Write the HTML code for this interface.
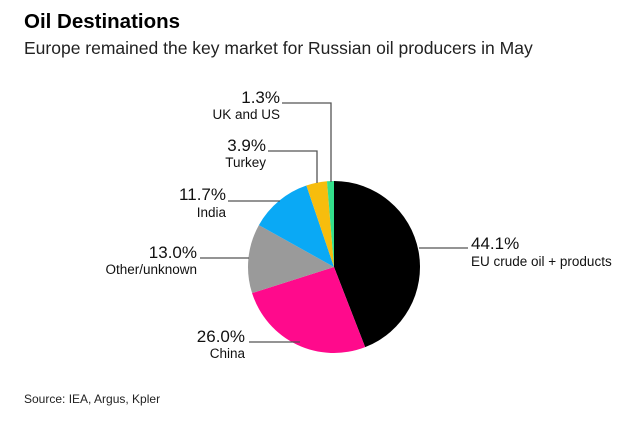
<!DOCTYPE html>
<html><head><meta charset="utf-8"><style>
body{margin:0;background:#fff;width:635px;height:419px;overflow:hidden;font-family:"Liberation Sans",Arial,sans-serif}
</style></head><body>
<svg id="s" width="635" height="419" xmlns="http://www.w3.org/2000/svg" font-family="Liberation Sans, Arial, sans-serif">
<text x="24" y="28" font-size="20.5" font-weight="bold" fill="#000">Oil Destinations</text>
<text x="24" y="54" font-size="17.5" fill="#222">Europe remained the key market for Russian oil producers in May</text>
<g id="pie"></g>
<g stroke="#555" stroke-width="1.3" fill="none">
<polyline points="282,103 331,103 331,182"/>
<polyline points="268,151 317,151 317,183"/>
<polyline points="228,201 280,201"/>
<polyline points="200,258 249,258"/>
<polyline points="419,248 468,248"/>
<polyline points="249,342 300,342"/>
</g>
<g fill="#111" text-anchor="end">
<text x="280" y="103" font-size="17">1.3%</text>
<text x="280" y="119" font-size="13.5">UK and US</text>
<text x="266" y="151" font-size="17">3.9%</text>
<text x="266" y="167" font-size="13.5">Turkey</text>
<text x="226" y="200" font-size="17">11.7%</text>
<text x="226" y="217" font-size="13.5">India</text>
<text x="197" y="258" font-size="17">13.0%</text>
<text x="197" y="274" font-size="13.5">Other/unknown</text>
<text x="245" y="342" font-size="17">26.0%</text>
<text x="245" y="358" font-size="13.5">China</text>
</g>
<text x="471" y="249" font-size="17" fill="#111">44.1%</text>
<text x="471" y="266" font-size="13.5" fill="#111">EU crude oil + products</text>
<text x="24" y="403" font-size="12" fill="#222">Source: IEA, Argus, Kpler</text>
</svg>
<script>
var d=[[44.1,"#000"],[26,"#ff0a8c"],[13,"#9a9a9a"],[11.7,"#0aa9f5"],[3.9,"#f7bd0d"],[1.3,"#33e08c"]];
var cx=334,cy=267,r=86,c=0,g=document.getElementById("pie"),h="";
function p(a){a=a*3.6*Math.PI/180;return [cx+r*Math.sin(a),cy-r*Math.cos(a)];}
d.forEach(function(e){var s=p(c);c+=e[0];var t=p(c);var l=e[0]>50?1:0;
h+='<path d="M'+cx+','+cy+'L'+s[0]+','+s[1]+'A'+r+','+r+' 0 '+l+' 1 '+t[0]+','+t[1]+'Z" fill="'+e[1]+'"/>';});
g.innerHTML=h;
</script>
</body></html>
